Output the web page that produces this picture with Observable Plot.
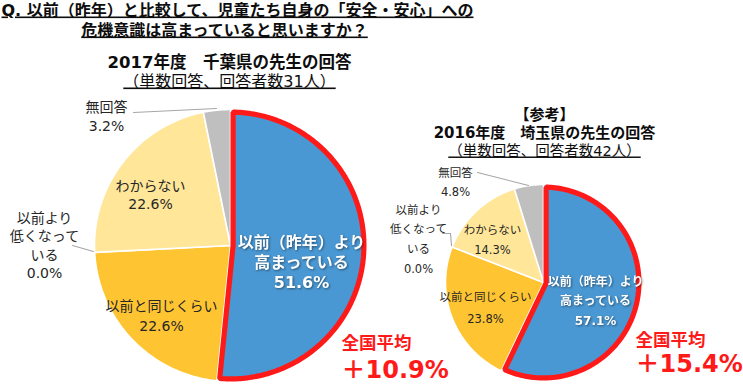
<!DOCTYPE html>
<html><head><meta charset="utf-8">
<script src="https://cdn.jsdelivr.net/npm/d3@7"></script>
<script src="https://cdn.jsdelivr.net/npm/@observablehq/plot@0.6"></script>
<style>
html,body{margin:0;padding:0;background:#fff;}
#chart{width:743px;height:387px;overflow:hidden;}
</style></head><body><div id="chart"></div>
<script>
// ---------- data ----------
const categories = ["以前（昨年）より高まっている", "以前と同じくらい", "以前より低くなっている", "わからない", "無回答"];
const categoryLabelLines = [["以前（昨年）より", "高まっている"], ["以前と同じくらい"], ["以前より", "低くなって", "いる"], ["わからない"], ["無回答"]];
const chiba2017 = [51.6, 22.6, 0.0, 22.6, 3.2];
const saitama2016 = [57.1, 23.8, 0.0, 14.3, 4.8];
const nationalAvgDiff = [10.9, 15.4];
const nationalAvgLabel = "全国平均";
const sliceColors = ["#4A98D3", "#FFC431", "#D9D9D9", "#FFE699", "#BFBFBF"];
const questionLines = ["Q. 以前（昨年）と比較して、児童たち自身の「安全・安心」への", "危機意識は高まっていると思いますか？"];
const pieTitleLines = [
  ["", "2017年度　千葉県の先生の回答", "（単数回答、回答者数31人）"],
  ["【参考】", "2016年度　埼玉県の先生の回答", "（単数回答、回答者数42人）"]
];

// ---------- layout ----------
const FONT = '"DejaVu Sans","Noto Sans CJK JP",sans-serif';
const pies = [
  { values: chiba2017, cx: 230, cy: 245, r: 136, size: 14,
    labels: [{x: 301, y: 247, lh: 20, size: 16}, {x: 161, y: 310, lh: 20}, {x: 44, y: 222, lh: 18.6}, {x: 150, y: 190, lh: 18.5}, {x: 106, y: 111, lh: 19}],
    leaders: {4: [[133, 112], [216, 108]], 2: [[72, 245], [93, 251]]},
    avg: {x: 341, y1: 348, y2: 377},
    titles: {x: 229, ys: [0, 67, 86], sizes: [16, 16.5, 16]} },
  { values: saitama2016, cx: 543, cy: 282, r: 98, size: 11.5,
    labels: [{x: 595, y: 285, lh: 19.5, size: 12}, {x: 485, y: 300, lh: 22}, {x: 418, y: 213, lh: 19.7}, {x: 492, y: 233, lh: 20}, {x: 455, y: 176, lh: 19}],
    leaders: {4: [[477, 172], [528, 185]], 2: [[442, 233], [450, 233], [451, 245]]},
    avg: {x: 635, y1: 345, y2: 371},
    titles: {x: 544, ys: [119, 137, 155], sizes: [15, 15, 14.5]} }
];

// ---------- geometry from data ----------
const slices = [];
const borders = [];
const leaders = [];
const texts = [];
const deg = Math.PI / 180;
pies.forEach((p, pi) => {
  const arcs = d3.pie().sort(null).value(d => d)(p.values);
  arcs.forEach((a, i) => {
    const span = a.endAngle - a.startAngle;
    if (span > 0) {
      const id = pi + "-" + i;
      slices.push({id, cat: categories[i], x: p.cx, y: p.cy});
      const n = Math.max(2, Math.ceil(span / deg));
      for (let k = 0; k <= n; k++) {
        const t = a.startAngle + span * k / n;
        slices.push({id, cat: categories[i], x: p.cx + p.r * Math.sin(t), y: p.cy - p.r * Math.cos(t)});
      }
      if (i === 0) {
        // red outline drawn inset inside the highlighted slice
        const ins = 2.6, half = span / 2, am = (a.startAngle + a.endAngle) / 2;
        const d0 = ins / Math.abs(Math.sin(half));
        borders.push({id, x: p.cx + d0 * Math.sin(am), y: p.cy - d0 * Math.cos(am)});
        const rr = p.r - ins, da = Math.asin(ins / rr);
        const s0 = a.startAngle + da, s1 = a.endAngle - da;
        for (let k = 0; k <= n; k++) {
          const t = s0 + (s1 - s0) * k / n;
          borders.push({id, x: p.cx + rr * Math.sin(t), y: p.cy - rr * Math.cos(t)});
        }
      }
    }
    // labels
    const L = p.labels[i];
    const lines = [...categoryLabelLines[i], p.values[i].toFixed(1) + "%"];
    const white = i === 0;
    lines.forEach((s, k) => texts.push({
      x: L.x, y: L.y + k * L.lh, text: s, size: L.size || p.size,
      weight: white ? "bold" : "normal", fill: white ? "#FFFFFF" : "#262626", anchor: "middle", shadow: white
    }));
    if (p.leaders[i]) p.leaders[i].forEach(([x, y]) => leaders.push({id: pi + "-" + i, x, y}));
  });
  texts.push({x: p.avg.x, y: p.avg.y1, text: nationalAvgLabel, size: 17.5, weight: "bold", fill: "#FF1A1A", anchor: "start"});
  texts.push({x: p.avg.x, y: p.avg.y2, text: "＋" + nationalAvgDiff[pi].toFixed(1) + "%", size: 24, weight: "bold", fill: "#FF1A1A", anchor: "start"});
  pieTitleLines[pi].forEach((s, k) => {
    if (s) texts.push({x: p.titles.x, y: p.titles.ys[k], text: s, size: p.titles.sizes[k],
      weight: k < 2 ? "bold" : "normal", fill: "#0D0D0D", anchor: "middle", underline: k === 2});
  });
});
texts.push({x: 1, y: 15, text: questionLines[0], size: 16, weight: "bold", fill: "#0D0D0D", anchor: "start", underline: true});
texts.push({x: 224, y: 35, text: questionLines[1], size: 16, weight: "bold", fill: "#0D0D0D", anchor: "middle", underline: true});

// group text by style -> one text mark per style
const groups = d3.groups(texts, d => [d.size, d.weight, d.fill, d.anchor, !!d.underline, !!d.shadow].join("|"));
const textMarks = groups.map(([key, rows]) => Plot.text(rows, {
  x: "x", y: "y", text: "text", fontSize: rows[0].size, fontWeight: rows[0].weight,
  fill: rows[0].fill, textAnchor: rows[0].anchor, lineAnchor: "bottom", fontFamily: FONT,
  ariaDescription: (rows[0].underline ? "ul " : "") + (rows[0].shadow ? "sh" : "")
}));

const chart = Plot.plot({
  width: 743, height: 387, margin: 0,
  x: {domain: [0, 743], range: [0, 743], axis: null},
  y: {domain: [0, 387], range: [0, 387], axis: null},
  color: {domain: categories, range: sliceColors},
  style: {background: "#fff", fontFamily: FONT},
  marks: [
    Plot.line(slices, {x: "x", y: "y", z: "id", fill: "cat", stroke: "#FFFFFF", strokeWidth: 1.6, curve: "linear-closed"}),
    Plot.line(borders, {x: "x", y: "y", z: "id", stroke: "#FF1A1A", strokeWidth: 5.2, strokeLinejoin: "miter", curve: "linear-closed"}),
    Plot.line(leaders, {x: "x", y: "y", z: "id", stroke: "#A6A6A6", strokeWidth: 1.1}),
    ...textMarks
  ]
});
document.getElementById("chart").appendChild(chart);
d3.select(chart).selectAll("g[aria-description]").each(function () {
  const desc = this.getAttribute("aria-description") || "";
  if (desc.includes("ul")) d3.select(this).selectAll("text").style("text-decoration", "underline");
  if (desc.includes("sh")) d3.select(this).style("filter", "drop-shadow(1px 1px 1px rgba(0,0,0,0.45))");
});
</script>
</body></html>
